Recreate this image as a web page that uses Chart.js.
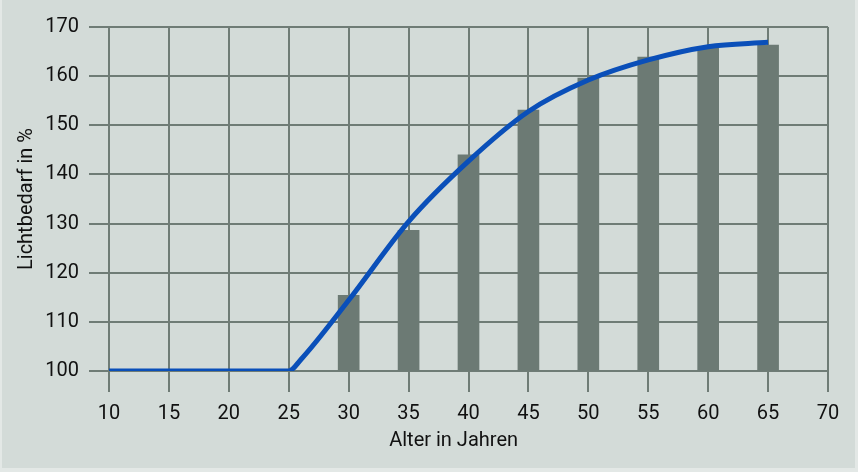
<!DOCTYPE html>
<html>
<head>
<meta charset="utf-8">
<script src="https://cdn.jsdelivr.net/npm/chart.js@4.4.0/dist/chart.umd.min.js"></script>
<style>
  html, body { margin: 0; padding: 0; background: #e3e8e6; }
  #box {
    width: 858px; height: 472px; box-sizing: border-box;
    border-left: 2px solid #e3e8e6; border-right: 3px solid #e3e8e6; border-bottom: 4px solid #e3e8e6;
    background: #d3dbd8;
  }
</style>
</head>
<body>
<div id="box"><canvas id="myChart" width="853" height="468"></canvas></div>
<script>
// Lichtbedarf nach Alter
const barAges = [30, 35, 40, 45, 50, 55, 60, 65];
const barValues = [115.4, 128.6, 144.0, 153.1, 159.6, 163.9, 165.8, 166.3];

const lineAges = [10, 15, 20, 25, 26, 30, 35, 40, 45, 50, 55, 60, 65];
const lineValues = [100, 100, 100, 100, 102.3, 114.4, 130.4, 142.7, 152.8, 159.2, 163.3, 166.0, 166.9];

const yTicks = [100, 110, 120, 130, 140, 150, 160, 170];
const xTicks = [10, 15, 20, 25, 30, 35, 40, 45, 50, 55, 60, 65, 70];

const gridColor = '#6f7c76';
const textColor = '#111111';
const font = { family: 'Roboto', size: 20 };

const ctx = document.getElementById('myChart');
new Chart(ctx, {
    data: {
        datasets: [{
            type: 'line',
            label: 'Kurve',
            data: lineAges.map((a, i) => ({ x: a, y: lineValues[i] })),
            borderColor: '#0a4fb9',
            borderWidth: 5,
            pointRadius: 0,
            cubicInterpolationMode: 'monotone',
            borderCapStyle: 'butt',
            order: 0
        }, {
            type: 'bar',
            label: 'Balken',
            data: barAges.map((a, i) => ({ x: a, y: barValues[i] })),
            backgroundColor: '#6c7a74',
            barThickness: 21,
            order: 1
        }]
    },
    options: {
        responsive: false,
        animation: false,
        layout: { padding: { top: 27, right: 27, left: 0, bottom: 0 } },
        plugins: { legend: { display: false }, tooltip: { enabled: false } },
        scales: {
            x: {
                type: 'linear',
                offset: false,
                min: 10,
                max: 70,
                afterBuildTicks: s => { s.ticks = xTicks.map(v => ({ value: v })); },
                afterFit: s => { s.height = 97; },
                ticks: { color: textColor, font: font, padding: 10, maxRotation: 0 },
                grid: { offset: false, color: gridColor, lineWidth: 2, tickLength: 21, tickColor: gridColor },
                border: { color: gridColor, width: 2 },
                // trailing spaces nudge the centred title a bit to the left, like the original
                title: { display: true, text: 'Alter in Jahren\u00a0\u00a0\u00a0\u00a0\u00a0\u00a0', color: textColor, font: font, padding: { top: 0, bottom: 15 } }
            },
            y: {
                min: 100,
                max: 170,
                afterBuildTicks: s => { s.ticks = yTicks.map(v => ({ value: v })); },
                afterFit: s => { s.width = 107; },
                ticks: { color: textColor, font: font, padding: 10 },
                grid: { color: gridColor, lineWidth: 2, tickLength: 20, tickColor: gridColor },
                border: { color: gridColor, width: 2 },
                title: { display: true, text: 'Lichtbedarf in %', color: textColor, font: font, padding: { top: 13, bottom: 0 } }
            }
        }
    }
});
</script>
</body>
</html>
